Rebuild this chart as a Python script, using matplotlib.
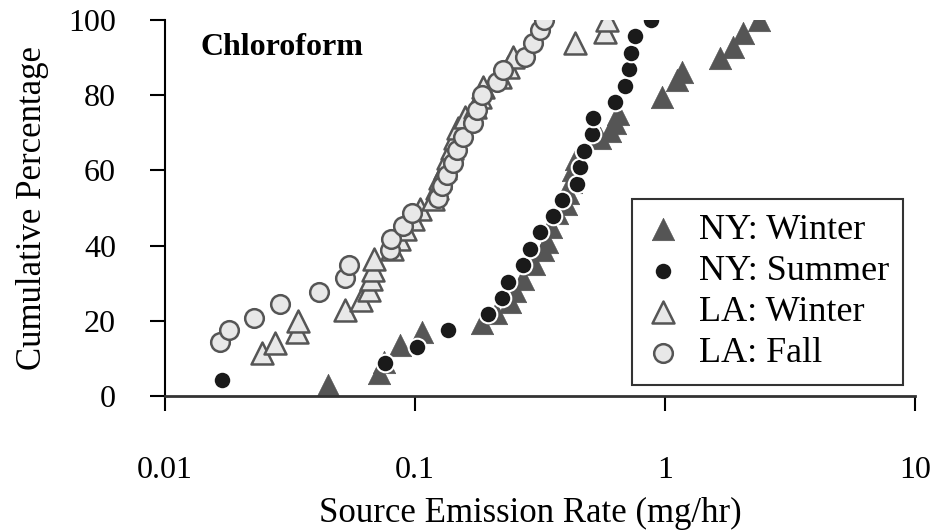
import matplotlib
matplotlib.use('Agg')
import matplotlib.pyplot as plt

plt.rcParams['font.family'] = ['Liberation Serif', 'DejaVu Serif']

# NY: Winter
ny_winter_x = [0.045, 0.072, 0.075, 0.087, 0.107, 0.185, 0.21, 0.24, 0.25, 0.27, 0.30,
               0.325, 0.337, 0.35, 0.37, 0.40, 0.41, 0.42, 0.43, 0.44, 0.55, 0.60,
               0.63, 0.65, 0.97, 1.12, 1.17, 1.66, 1.87, 2.05, 2.38]
ny_winter_y = [3, 6, 9, 13.5, 17, 19.5, 22, 25, 28, 31, 35,
               38.8, 41, 45, 48.7, 51, 54, 57, 60, 63, 68.6, 70.5,
               72.6, 75, 79.5, 84, 86.2, 90, 93, 96.5, 100]

# NY: Summer
ny_summer_x = [0.0169, 0.0759, 0.102, 0.136, 0.196, 0.223, 0.236, 0.270, 0.288, 0.316,
               0.356, 0.387, 0.445, 0.457, 0.474, 0.511, 0.515, 0.631, 0.692, 0.718,
               0.731, 0.759, 0.879]
ny_summer_y = [4.3, 8.7, 13.0, 17.4, 21.7, 26.1, 30.4, 34.8, 39.1, 43.5, 47.8, 52.2,
               56.5, 60.9, 65.2, 69.6, 73.9, 78.3, 82.6, 87.0, 91.3, 95.7, 100]

# LA: Winter
la_winter_x = [0.0245, 0.0277, 0.0339, 0.0342, 0.0523, 0.0607, 0.0653, 0.0665, 0.0678,
               0.0684, 0.0813, 0.086, 0.0916, 0.0985, 0.105, 0.118, 0.123, 0.126, 0.132,
               0.136, 0.141, 0.145, 0.149, 0.159, 0.174, 0.182, 0.187, 0.219, 0.236,
               0.247, 0.438, 0.577, 0.588]
la_winter_y = [11.4, 14.1, 17.0, 19.9, 22.9, 25.5, 28.2, 31.0, 33.6, 36.3, 39.0, 41.7,
               44.4, 47.1, 49.8, 52.5, 55.2, 57.9, 60.6, 63.3, 66.0, 68.7, 71.4, 74.1,
               76.8, 79.5, 82.2, 84.9, 87.6, 90.3, 93.9, 96.8, 100]

# LA: Fall
la_fall_x = [0.0166, 0.0180, 0.0227, 0.0288, 0.0413, 0.0525, 0.0545, 0.0794, 0.0802,
             0.0895, 0.0973, 0.124, 0.128, 0.134, 0.142, 0.147, 0.156, 0.171, 0.177,
             0.185, 0.213, 0.225, 0.275, 0.296, 0.316, 0.328]
la_fall_y = [14.4, 17.6, 20.7, 24.5, 27.7, 31.4, 34.8, 38.8, 41.8, 45.2, 48.7, 52.7,
             55.9, 58.8, 62.0, 65.4, 68.9, 72.6, 76.1, 80.1, 83.5, 86.7, 90.2, 93.9,
             97.3, 100]

fig = plt.figure(figsize=(9.36, 5.32), dpi=100)
ax = fig.add_axes([0.176, 0.256, 0.802, 0.706])

dark = '#555555'
light = '#e8e8e8'

ax.scatter(ny_winter_x, ny_winter_y, marker='^', s=260, color=dark, edgecolors=dark,
           linewidths=0.5, label='NY: Winter', zorder=2)
ax.scatter(la_winter_x, la_winter_y, marker='^', s=250, facecolor=light, edgecolors=dark,
           linewidths=1.8, label='LA: Winter', zorder=3)
ax.scatter(ny_summer_x, ny_summer_y, marker='o', s=160, color='#1a1a1a', edgecolors='white',
           linewidths=1.5, label='NY: Summer', zorder=4)
ax.scatter(la_fall_x, la_fall_y, marker='o', s=180, facecolor=light, edgecolors=dark,
           linewidths=1.8, label='LA: Fall', zorder=5)

ax.set_xscale('log')
ax.set_xlim(0.01, 10)
ax.set_ylim(0, 100)
ax.set_xticks([0.01, 0.1, 1, 10])
ax.set_xticklabels(['0.01', '0.1', '1', '10'])
ax.set_yticks([0, 20, 40, 60, 80, 100])
ax.minorticks_off()

for s in ['top', 'right']:
    ax.spines[s].set_visible(False)
ax.spines['left'].set_linewidth(1.5)
ax.spines['bottom'].set_linewidth(2)
ax.spines['bottom'].set_color('#333333')

ax.tick_params(axis='x', direction='out', length=11, width=1.5, pad=32, labelsize=23)
ax.tick_params(axis='y', direction='out', length=11, width=1.5, pad=24, labelsize=23)

ax.set_xlabel('Source Emission Rate (mg/hr)', fontsize=25)
ax.xaxis.set_label_coords(0.487, -0.27)
ax.set_ylabel('Cumulative Percentage', fontsize=25, labelpad=14)

ax.text(0.047, 0.928, 'Chloroform', transform=ax.transAxes, fontsize=23,
        fontweight='bold', va='center', ha='left', color='black')

handles, labels = ax.get_legend_handles_labels()
order = [0, 2, 1, 3]
leg = ax.legend([handles[i] for i in order], [labels[i] for i in order],
                loc='lower right', bbox_to_anchor=(0.984, 0.029), fontsize=26,
                frameon=True, fancybox=False, edgecolor='black', borderpad=0.4,
                labelspacing=0.22, handlelength=0.9, handletextpad=0.55, borderaxespad=0)
leg.get_frame().set_linewidth(1.5)

fig.savefig('out.png', dpi=100)
